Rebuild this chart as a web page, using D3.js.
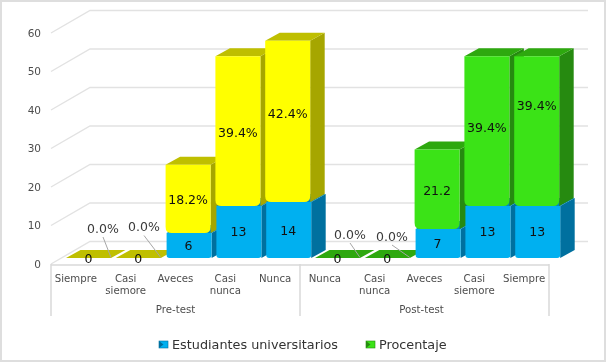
<!DOCTYPE html>
<html><head><meta charset="utf-8">
<script src="https://cdn.jsdelivr.net/npm/d3@7"></script>
<style>
html,body{margin:0;padding:0;background:#fff}
svg{display:block;filter:blur(0.35px)}
text{font-family:"DejaVu Sans",sans-serif}
</style></head><body>
<svg id="c" width="607" height="363"></svg>
<script>
const categories = ["Siempre","Casi siemore","Aveces","Casi nunca","Nunca","Nunca ","Casi nunca ","Aveces ","Casi siemore ","Siempre "];
const groups = ["Pre-test","Post-test"];
const students = [0,0,6,13,14,0,0,7,13,13];
const percent = [0,0,18.2,39.4,42.4,0,0,21.2,39.4,39.4];
const percentLabels = ["0.0%","0.0%","18.2%","39.4%","42.4%","0.0%","0.0%","21.2","39.4%","39.4%"];
const yTicks = [0,10,20,30,40,50,60];
const legendNames = ["Estudiantes universitarios","Procentaje"];

// layout
const frontL = 51, frontR = 549, frontBase = 264, front60 = 33;
const wallDx = 39, wallDy = -22.5;
const barDx = 14.5, barDy = -8, barW = 45, barOffset = 15, barBase = 258, blueLift = 2;
const labelShift = [0,0,0,0,-9,0,0,0,-5,-27];
const calloutX = [103,144,0,0,0,350,392];
const calloutRise = [30,31.5,0,0,0,24,22];

const svg = d3.select("#c");
const x = d3.scaleBand().domain(categories).range([frontL, frontR]);
const y = d3.scaleLinear().domain([0,60]).range([frontBase, front60]);
const barH = d3.scaleLinear().domain([0,60]).range([0, 231]);

const GRID = "#e2e2e2", TXT = "#4d4d4d", LBL = "#111";
const colors = {
  blue:{front:"#00b0f0", side:"#00709f", top:"#0089bb"},
  yellow:{front:"#ffff00", side:"#a6a600", top:"#bfbf00"},
  green:{front:"#3be317", side:"#268a10", top:"#2ea80f"}
};

// picture frame
svg.append("rect").attr("x",1).attr("y",1).attr("width",604).attr("height",360)
  .attr("fill","#fff").attr("stroke","#dedede").attr("stroke-width",2);

// walls
const grid = svg.append("g").attr("fill","none").attr("stroke",GRID).attr("stroke-width",1.4);
yTicks.forEach(t=>{
  grid.append("path").attr("d",d3.line()([
    [frontL,y(t)],[frontL+wallDx,y(t)+wallDy],[frontR+wallDx,y(t)+wallDy]
  ]));
});

// y axis
const axisY = d3.axisLeft(y).tickValues(yTicks).tickSize(0).tickPadding(10);
const ag = svg.append("g").attr("transform",`translate(${frontL},0)`).call(axisY);
ag.select(".domain").remove();
ag.selectAll("text").attr("fill",TXT).style("font-size","10.5px").style("font-family",'"DejaVu Sans"');

// x axis frame
const fr = svg.append("g").attr("stroke","#d9d9d9").attr("stroke-width",1.5).attr("fill","none");
fr.append("line").attr("x1",frontL).attr("x2",frontR).attr("y1",frontBase+1).attr("y2",frontBase+1);
[frontL,(frontL+frontR)/2,frontR].forEach(v=>fr.append("line").attr("x1",v).attr("x2",v).attr("y1",frontBase).attr("y2",316));

function frontPath(x0,yTop,yBot,r){
  return `M${x0},${yTop}H${x0+barW}V${yBot-r}Q${x0+barW},${yBot} ${x0+barW-r},${yBot}H${x0+r}Q${x0},${yBot} ${x0},${yBot-r}Z`;
}
function sidePath(x0,yTop,yBot){
  const xr=x0+barW;
  return `M${xr},${yTop}L${xr+barDx},${yTop+barDy}V${yBot+barDy}L${xr},${yBot}Z`;
}
function topPath(x0,yTop){
  return `M${x0},${yTop}L${x0+barDx},${yTop+barDy}H${x0+barW+barDx}L${x0+barW},${yTop}Z`;
}
function drawBlock(g,x0,yTop,yBot,c,r){
  g.append("path").attr("d",sidePath(x0,yTop,yBot)).attr("fill",c.side);
  g.append("path").attr("d",topPath(x0,yTop)).attr("fill",c.top);
  g.append("path").attr("d",frontPath(x0,yTop,yBot,r)).attr("fill",c.front);
}

const bars = svg.append("g");
const leaders = svg.append("g").attr("stroke","#a6a6a6").attr("stroke-width",1);
const labels = svg.append("g").attr("text-anchor","middle").attr("fill",LBL).style("font-size","12.5px");
categories.forEach((c,i)=>{
  const x0 = x(c)+barOffset;
  const col = i<5?colors.yellow:colors.green;
  const g = bars.append("g");
  const s = students[i], p = percent[i];
  const cx = x0+barW/2;
  if(s===0 && p===0){
    g.append("path").attr("d",topPath(x0,barBase)).attr("fill",col.top);
    labels.append("text").attr("x",cx).attr("y",barBase+4.5).text(s);
    const tx = calloutX[i], ty = barBase-calloutRise[i];
    leaders.append("line").attr("x1",tx).attr("y1",ty+9).attr("x2",x0+barW).attr("y2",barBase-0.5);
    labels.append("text").attr("x",tx).attr("y",ty+4.5).attr("fill","#3a3a3a").text(percentLabels[i]);
    return;
  }
  const yS = barBase-barH(s), yP = yS-barH(p);
  drawBlock(g,x0+1,yS-blueLift,barBase,colors.blue,3);
  drawBlock(g,x0,yP,yS-blueLift,col,6);
  labels.append("text").attr("x",cx+0.5).attr("y",(yS+barBase)/2+3.5).text(s);
  labels.append("text").attr("x",cx).attr("y",(yP+yS)/2+4.5+labelShift[i]).text(percentLabels[i]);
});

// category labels
const cat = svg.append("g").attr("text-anchor","middle").attr("fill",TXT).style("font-size","10.2px");
categories.forEach(c=>{
  const cx = x(c)+x.bandwidth()/2;
  c.trim().split(" ").forEach((w,k)=>cat.append("text").attr("x",cx).attr("y",281.5+k*12.5).text(w));
});
const gl = svg.append("g").attr("text-anchor","middle").attr("fill",TXT).style("font-size","10.2px");
groups.forEach((t,i)=>{
  const a = x(categories[i*5]), b = x(categories[i*5+4])+x.bandwidth();
  gl.append("text").attr("x",(a+b)/2-(i?3:0)).attr("y",313).text(t);
});

// legend
const leg = svg.append("g");
function swatch(xp,c){
  leg.append("rect").attr("x",xp).attr("y",341).attr("width",9).attr("height",7).attr("fill",c.front).attr("stroke",c.side).attr("stroke-width",0.6);
  leg.append("path").attr("d",`M${xp},${341}L${xp+4.5},${344.5}L${xp},${348}Z`).attr("fill",c.side);
}
swatch(159,colors.blue);
swatch(366,colors.green);
leg.append("text").attr("x",172).attr("y",348.5).attr("fill","#333").style("font-size","12.8px").text(legendNames[0]);
leg.append("text").attr("x",379).attr("y",348.5).attr("fill","#333").style("font-size","12.8px").text(legendNames[1]);
</script>
</body></html>
